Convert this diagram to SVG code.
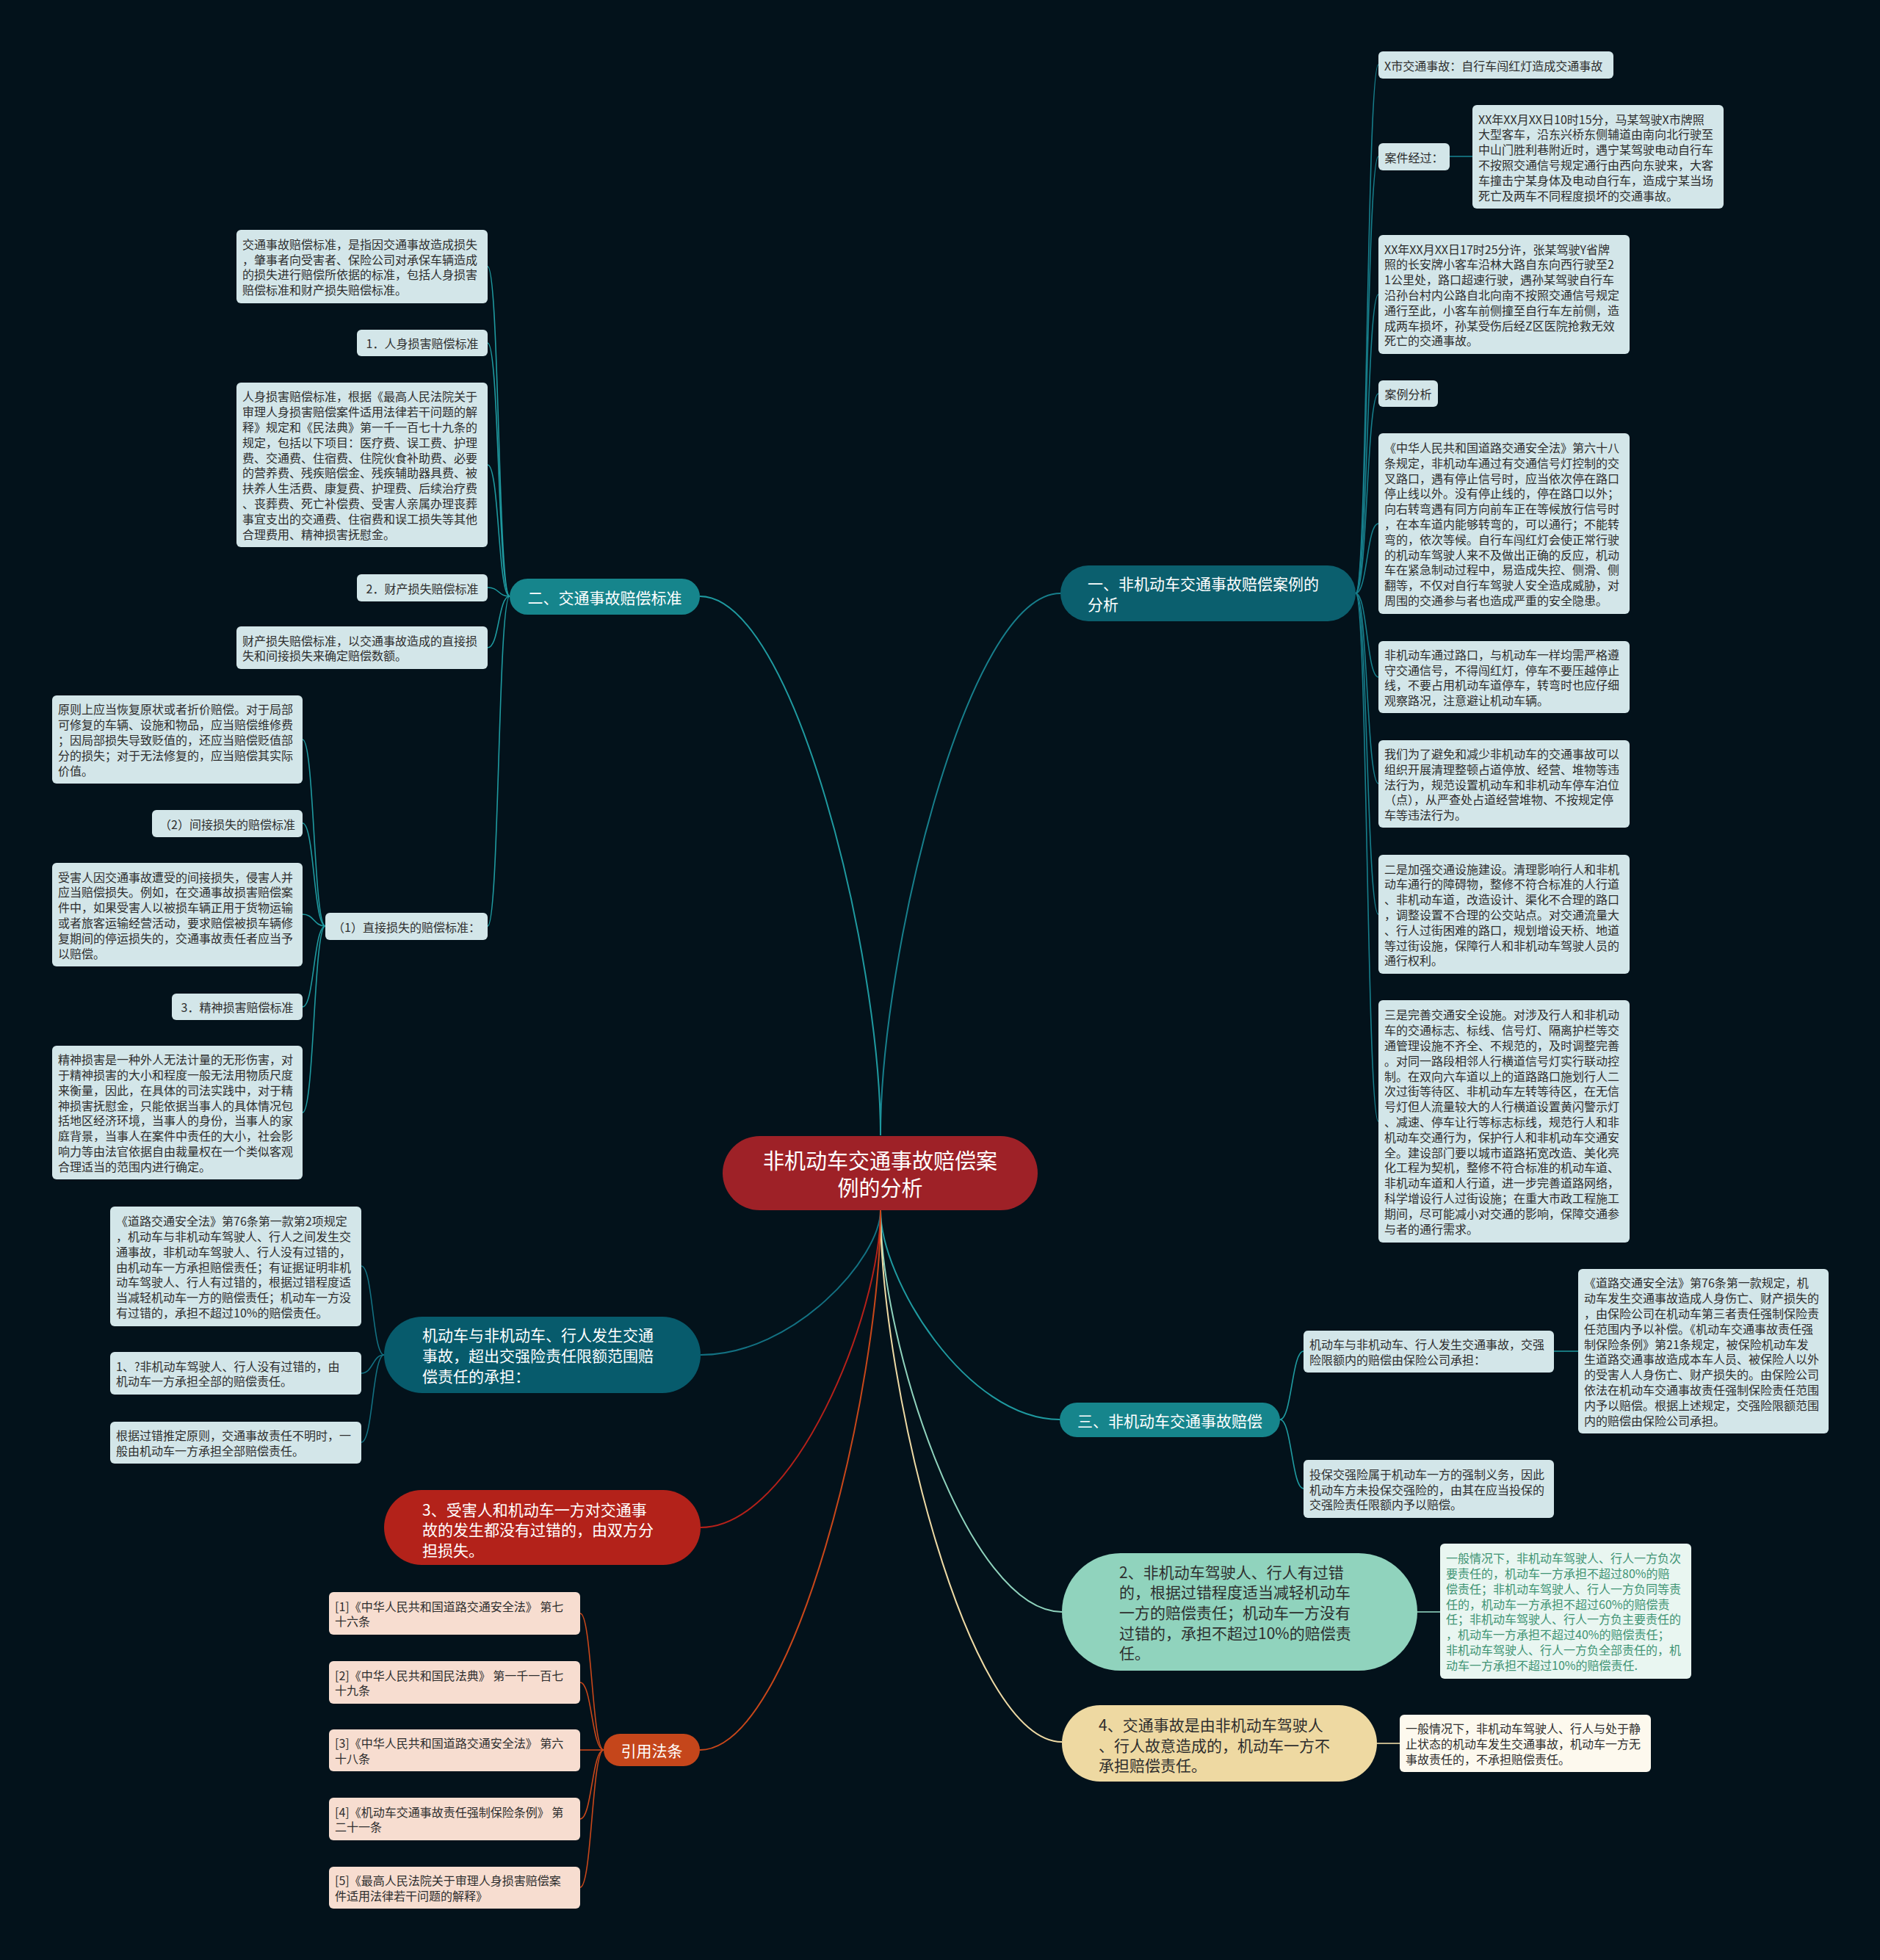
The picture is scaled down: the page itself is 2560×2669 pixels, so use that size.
<svg xmlns="http://www.w3.org/2000/svg" width="2560" height="2669" viewBox="0 0 2560 2669">
<style>
text{font-family:"Noto Sans CJK SC","Noto Sans",sans-serif;dominant-baseline:central}
.bx{fill:#d3e6e9}
.t{font-size:16px;fill:#2e2e2e}
.tc{font-size:16px;fill:#2e2e2e;text-anchor:middle}
.tw{font-size:21px;fill:#ffffff}
.td{font-size:21px;fill:#2e2e2e}
.c{fill:none;stroke-width:2}
.s{fill:none;stroke-width:1.6}
</style>
<rect width="2560" height="2669" fill="#03121b"/>
<g id="connectors">
<!-- center to main branches -->
<path class="c" stroke="#177f8c" d="M1199,1546 C1199,1302 1317,808 1444,808"/>
<path class="c" stroke="#1f9aa0" d="M1199,1546 C1199,1300 1081,812 953,812"/>
<path class="c" stroke="#1f9aa0" d="M1199,1648 C1199,1742 1316,1933 1443,1933"/>
<path class="c" stroke="#8fd3bd" d="M1199,1648 C1199,1829 1318,2195 1446,2195"/>
<path class="c" stroke="#efdba5" d="M1199,1648 C1199,1887 1318,2372 1446,2372"/>
<path class="c" stroke="#137182" d="M1199,1648 C1199,1713 1081,1845 954,1845"/>
<path class="c" stroke="#b5211a" d="M1199,1648 C1199,1791 1081,2080 954,2080"/>
<path class="c" stroke="#c9471a" d="M1199,1648 C1199,1891 1081,2383 953,2383"/>
<!-- branch 一 children -->
<g stroke="#177f8c" class="s">
<path d="M1846,808 C1862,808 1861,88 1877,88"/>
<path d="M1846,808 C1862,808 1861,213 1877,213"/>
<path d="M1846,808 C1862,808 1861,401 1877,401"/>
<path d="M1846,808 C1862,808 1861,536 1877,536"/>
<path d="M1846,808 C1862,808 1861,713 1877,713"/>
<path d="M1846,808 C1862,808 1861,922 1877,922"/>
<path d="M1846,808 C1862,808 1861,1067 1877,1067"/>
<path d="M1846,808 C1862,808 1861,1245 1877,1245"/>
<path d="M1846,808 C1862,808 1861,1527 1877,1527"/>
<path d="M1974,213 L2005,213"/>
</g>
<!-- branch 二 children -->
<g stroke="#1f9aa0" class="s">
<path d="M694,812 C678,812 680,363 664,363"/>
<path d="M694,812 C678,812 680,467 664,467"/>
<path d="M694,812 C678,812 680,633 664,633"/>
<path d="M694,812 C678,812 680,800 664,800"/>
<path d="M694,812 C678,812 680,882 664,882"/>
<path d="M694,812 C678,812 680,1261 664,1261"/>
<path d="M443,1261 C427,1261 428,1007 412,1007"/>
<path d="M443,1261 C427,1261 428,1121 412,1121"/>
<path d="M443,1261 C427,1261 428,1245 412,1245"/>
<path d="M443,1261 C427,1261 428,1371 412,1371"/>
<path d="M443,1261 C427,1261 428,1515 412,1515"/>
</g>
<!-- branch 机动车 children -->
<g stroke="#137182" class="s">
<path d="M523,1845 C507,1845 508,1724 492,1724"/>
<path d="M523,1845 C507,1845 508,1870 492,1870"/>
<path d="M523,1845 C507,1845 508,1964 492,1964"/>
</g>
<!-- 引用法条 children -->
<g stroke="#c9471a" class="s">
<path d="M822,2383 C806,2383 806,2197 790,2197"/>
<path d="M822,2383 C806,2383 806,2291 790,2291"/>
<path d="M822,2383 C806,2383 806,2383 790,2383"/>
<path d="M822,2383 C806,2383 806,2477 790,2477"/>
<path d="M822,2383 C806,2383 806,2570 790,2570"/>
</g>
<!-- 三 children -->
<g stroke="#1f9aa0" class="s">
<path d="M1743,1933 C1759,1933 1759,1840 1775,1840"/>
<path d="M1743,1933 C1759,1933 1759,2027 1775,2027"/>
<path d="M2116,1840 L2149,1840"/>
</g>
<path class="s" stroke="#8fd3bd" d="M1930,2195 L1961,2195"/>
<path class="s" stroke="#efdba5" d="M1875,2374 L1906,2374"/>
</g>

<g id="center">
<rect x="984" y="1547" width="429" height="101" rx="50.5" fill="#9e2127"/>
<text style="font-size:29px;fill:#fff;text-anchor:middle"><tspan x="1198.5" y="1579">非机动车交通事故赔偿案</tspan><tspan x="1198.5" y="1616">例的分析</tspan></text>
</g>

<g id="b1">
<rect x="1444" y="770" width="402" height="76" rx="38" fill="#0b5f6e"/>
<text class="tw"><tspan x="1481" y="794">一、非机动车交通事故赔偿案例的</tspan><tspan x="1481" y="822">分析</tspan></text>
</g>
<g id="b2">
<rect x="694" y="788" width="259" height="49" rx="24.5" fill="#16858c"/>
<text class="tw" style="text-anchor:middle" x="823.5" y="812.5">二、交通事故赔偿标准</text>
</g>
<g id="b3">
<rect x="1443" y="1910" width="300" height="47" rx="23.5" fill="#16858c"/>
<text class="tw" style="text-anchor:middle" x="1593" y="1933.5">三、非机动车交通事故赔偿</text>
</g>
<g id="b4">
<rect x="523" y="1793" width="431" height="104" rx="52" fill="#075b6c"/>
<text class="tw"><tspan x="575" y="1817">机动车与非机动车、行人发生交通</tspan><tspan x="575" y="1845">事故，超出交强险责任限额范围赔</tspan><tspan x="575" y="1873">偿责任的承担：</tspan></text>
</g>
<g id="b5">
<rect x="523" y="2029" width="431" height="102" rx="51" fill="#b3221a"/>
<text class="tw"><tspan x="575" y="2055">3、受害人和机动车一方对交通事</tspan><tspan x="575" y="2082">故的发生都没有过错的，由双方分</tspan><tspan x="575" y="2110">担损失。</tspan></text>
</g>
<g id="b6">
<rect x="822" y="2361" width="131" height="44" rx="22" fill="#c5461b"/>
<text class="tw" style="text-anchor:middle" x="887.5" y="2383">引用法条</text>
</g>
<g id="b7">
<rect x="1446" y="2115" width="484" height="160" rx="80" fill="#90d3bd"/>
<text class="td"><tspan x="1524" y="2140">2、非机动车驾驶人、行人有过错</tspan><tspan x="1524" y="2167">的，根据过错程度适当减轻机动车</tspan><tspan x="1524" y="2195">一方的赔偿责任；机动车一方没有</tspan><tspan x="1524" y="2223">过错的，承担不超过10%的赔偿责</tspan><tspan x="1524" y="2250">任。</tspan></text>
</g>
<g id="b8">
<rect x="1446" y="2322" width="429" height="104" rx="52" fill="#eed9a2"/>
<text class="td"><tspan x="1496" y="2348">4、交通事故是由非机动车驾驶人</tspan><tspan x="1496" y="2376">、行人故意造成的，机动车一方不</tspan><tspan x="1496" y="2403">承担赔偿责任。</tspan></text>
</g>

<!-- right side, branch 一 -->
<g id="r1"><rect class="bx" x="1877" y="70" width="320" height="37" rx="6"/><text class="t" x="1885" y="88.5">X市交通事故：自行车闯红灯造成交通事故</text></g>
<g id="r2"><rect class="bx" x="1877" y="195" width="97" height="37" rx="6"/><text class="tc" x="1925.5" y="213.5">案件经过：</text></g>
<g id="r3"><rect class="bx" x="2005" y="143" width="342" height="141" rx="6"/><text class="t"><tspan x="2013" y="161.5">XX年XX月XX日10时15分，马某驾驶X市牌照</tspan><tspan x="2013" y="182.3">大型客车，沿东兴桥东侧辅道由南向北行驶至</tspan><tspan x="2013" y="203.1">中山门胜利巷附近时，遇宁某驾驶电动自行车</tspan><tspan x="2013" y="223.9">不按照交通信号规定通行由西向东驶来，大客</tspan><tspan x="2013" y="244.7">车撞击宁某身体及电动自行车，造成宁某当场</tspan><tspan x="2013" y="265.5">死亡及两车不同程度损坏的交通事故。</tspan></text></g>
<g id="r4"><rect class="bx" x="1877" y="320" width="342" height="162" rx="6"/><text class="t"><tspan x="1885" y="338.6">XX年XX月XX日17时25分许，张某驾驶Y省牌</tspan><tspan x="1885" y="359.4">照的长安牌小客车沿林大路自东向西行驶至2</tspan><tspan x="1885" y="380.2">1公里处，路口超速行驶，遇孙某驾驶自行车</tspan><tspan x="1885" y="401">沿孙台村内公路自北向南不按照交通信号规定</tspan><tspan x="1885" y="421.8">通行至此，小客车前侧撞至自行车左前侧，造</tspan><tspan x="1885" y="442.6">成两车损坏，孙某受伤后经Z区医院抢救无效</tspan><tspan x="1885" y="463.4">死亡的交通事故。</tspan></text></g>
<g id="r5"><rect class="bx" x="1877" y="518" width="81" height="36" rx="6"/><text class="tc" x="1917.5" y="536">案例分析</text></g>
<g id="r6"><rect class="bx" x="1877" y="590" width="342" height="246" rx="6"/><text class="t"><tspan x="1885" y="609">《中华人民共和国道路交通安全法》第六十八</tspan><tspan x="1885" y="629.8">条规定，非机动车通过有交通信号灯控制的交</tspan><tspan x="1885" y="650.6">叉路口，遇有停止信号时，应当依次停在路口</tspan><tspan x="1885" y="671.4">停止线以外。没有停止线的，停在路口以外；</tspan><tspan x="1885" y="692.2">向右转弯遇有同方向前车正在等候放行信号时</tspan><tspan x="1885" y="713">，在本车道内能够转弯的，可以通行；不能转</tspan><tspan x="1885" y="733.8">弯的，依次等候。自行车闯红灯会使正常行驶</tspan><tspan x="1885" y="754.6">的机动车驾驶人来不及做出正确的反应，机动</tspan><tspan x="1885" y="775.4">车在紧急制动过程中，易造成失控、侧滑、侧</tspan><tspan x="1885" y="796.2">翻等，不仅对自行车驾驶人安全造成威胁，对</tspan><tspan x="1885" y="817">周围的交通参与者也造成严重的安全隐患。</tspan></text></g>
<g id="r7"><rect class="bx" x="1877" y="873" width="342" height="98" rx="6"/><text class="t"><tspan x="1885" y="890.8">非机动车通过路口，与机动车一样均需严格遵</tspan><tspan x="1885" y="911.6">守交通信号，不得闯红灯，停车不要压越停止</tspan><tspan x="1885" y="932.4">线，不要占用机动车道停车，转弯时也应仔细</tspan><tspan x="1885" y="953.2">观察路况，注意避让机动车辆。</tspan></text></g>
<g id="r8"><rect class="bx" x="1877" y="1008" width="342" height="119" rx="6"/><text class="t"><tspan x="1885" y="1025.9">我们为了避免和减少非机动车的交通事故可以</tspan><tspan x="1885" y="1046.7">组织开展清理整顿占道停放、经营、堆物等违</tspan><tspan x="1885" y="1067.5">法行为，规范设置机动车和非机动车停车泊位</tspan><tspan x="1885" y="1088.3">（点），从严查处占道经营堆物、不按规定停</tspan><tspan x="1885" y="1109.1">车等违法行为。</tspan></text></g>
<g id="r9"><rect class="bx" x="1877" y="1164" width="342" height="162" rx="6"/><text class="t"><tspan x="1885" y="1182.6">二是加强交通设施建设。清理影响行人和非机</tspan><tspan x="1885" y="1203.4">动车通行的障碍物，整修不符合标准的人行道</tspan><tspan x="1885" y="1224.2">、非机动车道，改造设计、渠化不合理的路口</tspan><tspan x="1885" y="1245">，调整设置不合理的公交站点。对交通流量大</tspan><tspan x="1885" y="1265.8">、行人过街困难的路口，规划增设天桥、地道</tspan><tspan x="1885" y="1286.6">等过街设施，保障行人和非机动车驾驶人员的</tspan><tspan x="1885" y="1307.4">通行权利。</tspan></text></g>
<g id="r10"><rect class="bx" x="1877" y="1362" width="342" height="330" rx="6"/><text class="t"><tspan x="1885" y="1381.4">三是完善交通安全设施。对涉及行人和非机动</tspan><tspan x="1885" y="1402.2">车的交通标志、标线、信号灯、隔离护栏等交</tspan><tspan x="1885" y="1423">通管理设施不齐全、不规范的，及时调整完善</tspan><tspan x="1885" y="1443.8">。对同一路段相邻人行横道信号灯实行联动控</tspan><tspan x="1885" y="1464.6">制。在双向六车道以上的道路路口施划行人二</tspan><tspan x="1885" y="1485.4">次过街等待区、非机动车左转等待区，在无信</tspan><tspan x="1885" y="1506.2">号灯但人流量较大的人行横道设置黄闪警示灯</tspan><tspan x="1885" y="1527">、减速、停车让行等标志标线，规范行人和非</tspan><tspan x="1885" y="1547.8">机动车交通行为，保护行人和非机动车交通安</tspan><tspan x="1885" y="1568.6">全。建设部门要以城市道路拓宽改造、美化亮</tspan><tspan x="1885" y="1589.4">化工程为契机，整修不符合标准的机动车道、</tspan><tspan x="1885" y="1610.2">非机动车道和人行道，进一步完善道路网络，</tspan><tspan x="1885" y="1631">科学增设行人过街设施；在重大市政工程施工</tspan><tspan x="1885" y="1651.8">期间，尽可能减小对交通的影响，保障交通参</tspan><tspan x="1885" y="1672.6">与者的通行需求。</tspan></text></g>

<!-- left side, branch 二 -->
<g id="l1"><rect class="bx" x="322" y="313" width="342" height="100" rx="6"/><text class="t"><tspan x="330" y="331.8">交通事故赔偿标准，是指因交通事故造成损失</tspan><tspan x="330" y="352.6">，肇事者向受害者、保险公司对承保车辆造成</tspan><tspan x="330" y="373.4">的损失进行赔偿所依据的标准，包括人身损害</tspan><tspan x="330" y="394.2">赔偿标准和财产损失赔偿标准。</tspan></text></g>
<g id="l2"><rect class="bx" x="486" y="449" width="178" height="36" rx="6"/><text class="tc" x="575" y="467">1．人身损害赔偿标准</text></g>
<g id="l3"><rect class="bx" x="322" y="521" width="342" height="224" rx="6"/><text class="t"><tspan x="330" y="539.4">人身损害赔偿标准，根据《最高人民法院关于</tspan><tspan x="330" y="560.2">审理人身损害赔偿案件适用法律若干问题的解</tspan><tspan x="330" y="581">释》规定和《民法典》第一千一百七十九条的</tspan><tspan x="330" y="601.8">规定，包括以下项目：医疗费、误工费、护理</tspan><tspan x="330" y="622.6">费、交通费、住宿费、住院伙食补助费、必要</tspan><tspan x="330" y="643.4">的营养费、残疾赔偿金、残疾辅助器具费、被</tspan><tspan x="330" y="664.2">扶养人生活费、康复费、护理费、后续治疗费</tspan><tspan x="330" y="685">、丧葬费、死亡补偿费、受害人亲属办理丧葬</tspan><tspan x="330" y="705.8">事宜支出的交通费、住宿费和误工损失等其他</tspan><tspan x="330" y="726.6">合理费用、精神损害抚慰金。</tspan></text></g>
<g id="l4"><rect class="bx" x="486" y="782" width="178" height="37" rx="6"/><text class="tc" x="575" y="800.5">2．财产损失赔偿标准</text></g>
<g id="l5"><rect class="bx" x="322" y="853" width="342" height="58" rx="6"/><text class="t"><tspan x="330" y="871.6">财产损失赔偿标准，以交通事故造成的直接损</tspan><tspan x="330" y="892.4">失和间接损失来确定赔偿数额。</tspan></text></g>
<g id="l6"><rect class="bx" x="443" y="1243" width="221" height="37" rx="6"/><text class="tc" x="553.5" y="1261.5">（1）直接损失的赔偿标准：</text></g>
<g id="l7"><rect class="bx" x="71" y="947" width="341" height="120" rx="6"/><text class="t"><tspan x="79" y="965.4">原则上应当恢复原状或者折价赔偿。对于局部</tspan><tspan x="79" y="986.2">可修复的车辆、设施和物品，应当赔偿维修费</tspan><tspan x="79" y="1007">；因局部损失导致贬值的，还应当赔偿贬值部</tspan><tspan x="79" y="1027.8">分的损失；对于无法修复的，应当赔偿其实际</tspan><tspan x="79" y="1048.6">价值。</tspan></text></g>
<g id="l8"><rect class="bx" x="207" y="1103" width="205" height="37" rx="6"/><text class="tc" x="309.5" y="1121.5">（2）间接损失的赔偿标准</text></g>
<g id="l9"><rect class="bx" x="71" y="1175" width="341" height="141" rx="6"/><text class="t"><tspan x="79" y="1193.5">受害人因交通事故遭受的间接损失，侵害人并</tspan><tspan x="79" y="1214.3">应当赔偿损失。例如，在交通事故损害赔偿案</tspan><tspan x="79" y="1235.1">件中，如果受害人以被损车辆正用于货物运输</tspan><tspan x="79" y="1255.9">或者旅客运输经营活动，要求赔偿被损车辆修</tspan><tspan x="79" y="1276.7">复期间的停运损失的，交通事故责任者应当予</tspan><tspan x="79" y="1297.5">以赔偿。</tspan></text></g>
<g id="l10"><rect class="bx" x="234" y="1353" width="178" height="36" rx="6"/><text class="tc" x="323" y="1371">3．精神损害赔偿标准</text></g>
<g id="l11"><rect class="bx" x="71" y="1424" width="341" height="182" rx="6"/><text class="t"><tspan x="79" y="1442.2">精神损害是一种外人无法计量的无形伤害，对</tspan><tspan x="79" y="1463">于精神损害的大小和程度一般无法用物质尺度</tspan><tspan x="79" y="1483.8">来衡量，因此，在具体的司法实践中，对于精</tspan><tspan x="79" y="1504.6">神损害抚慰金，只能依据当事人的具体情况包</tspan><tspan x="79" y="1525.4">括地区经济环境，当事人的身份，当事人的家</tspan><tspan x="79" y="1546.2">庭背景，当事人在案件中责任的大小，社会影</tspan><tspan x="79" y="1567">响力等由法官依据自由裁量权在一个类似客观</tspan><tspan x="79" y="1587.8">合理适当的范围内进行确定。</tspan></text></g>

<!-- branch 机动车 children -->
<g id="m1"><rect class="bx" x="150" y="1643" width="342" height="163" rx="6"/><text class="t"><tspan x="158" y="1662.1">《道路交通安全法》第76条第一款第2项规定</tspan><tspan x="158" y="1682.9">，机动车与非机动车驾驶人、行人之间发生交</tspan><tspan x="158" y="1703.7">通事故，非机动车驾驶人、行人没有过错的，</tspan><tspan x="158" y="1724.5">由机动车一方承担赔偿责任；有证据证明非机</tspan><tspan x="158" y="1745.3">动车驾驶人、行人有过错的，根据过错程度适</tspan><tspan x="158" y="1766.1">当减轻机动车一方的赔偿责任；机动车一方没</tspan><tspan x="158" y="1786.9">有过错的，承担不超过10%的赔偿责任。</tspan></text></g>
<g id="m2"><rect class="bx" x="150" y="1841" width="342" height="58" rx="6"/><text class="t"><tspan x="158" y="1859.6">1、?非机动车驾驶人、行人没有过错的，由</tspan><tspan x="158" y="1880.4">机动车一方承担全部的赔偿责任。</tspan></text></g>
<g id="m3"><rect class="bx" x="150" y="1936" width="342" height="57" rx="6"/><text class="t"><tspan x="158" y="1954.1">根据过错推定原则，交通事故责任不明时，一</tspan><tspan x="158" y="1974.9">般由机动车一方承担全部赔偿责任。</tspan></text></g>

<!-- 引用法条 children -->
<g id="f1"><rect x="448" y="2168" width="342" height="58" rx="6" fill="#f7ddd0"/><text class="t"><tspan x="456" y="2186.6">[1]《中华人民共和国道路交通安全法》 第七</tspan><tspan x="456" y="2207.4">十六条</tspan></text></g>
<g id="f2"><rect x="448" y="2262" width="342" height="58" rx="6" fill="#f7ddd0"/><text class="t"><tspan x="456" y="2280.6">[2]《中华人民共和国民法典》 第一千一百七</tspan><tspan x="456" y="2301.4">十九条</tspan></text></g>
<g id="f3"><rect x="448" y="2355" width="342" height="57" rx="6" fill="#f7ddd0"/><text class="t"><tspan x="456" y="2373.1">[3]《中华人民共和国道路交通安全法》 第六</tspan><tspan x="456" y="2393.9">十八条</tspan></text></g>
<g id="f4"><rect x="448" y="2448" width="342" height="58" rx="6" fill="#f7ddd0"/><text class="t"><tspan x="456" y="2466.6">[4]《机动车交通事故责任强制保险条例》 第</tspan><tspan x="456" y="2487.4">二十一条</tspan></text></g>
<g id="f5"><rect x="448" y="2542" width="342" height="57" rx="6" fill="#f7ddd0"/><text class="t"><tspan x="456" y="2560.1">[5]《最高人民法院关于审理人身损害赔偿案</tspan><tspan x="456" y="2580.9">件适用法律若干问题的解释》</tspan></text></g>

<!-- 三 children -->
<g id="t1"><rect class="bx" x="1775" y="1812" width="341" height="57" rx="6"/><text class="t"><tspan x="1783" y="1830.1">机动车与非机动车、行人发生交通事故，交强</tspan><tspan x="1783" y="1850.9">险限额内的赔偿由保险公司承担：</tspan></text></g>
<g id="t2"><rect class="bx" x="2149" y="1728" width="341" height="224" rx="6"/><text class="t"><tspan x="2157" y="1746.4">《道路交通安全法》第76条第一款规定，机</tspan><tspan x="2157" y="1767.2">动车发生交通事故造成人身伤亡、财产损失的</tspan><tspan x="2157" y="1788">，由保险公司在机动车第三者责任强制保险责</tspan><tspan x="2157" y="1808.8">任范围内予以补偿。《机动车交通事故责任强</tspan><tspan x="2157" y="1829.6">制保险条例》第21条规定，被保险机动车发</tspan><tspan x="2157" y="1850.4">生道路交通事故造成本车人员、被保险人以外</tspan><tspan x="2157" y="1871.2">的受害人人身伤亡、财产损失的。由保险公司</tspan><tspan x="2157" y="1892">依法在机动车交通事故责任强制保险责任范围</tspan><tspan x="2157" y="1912.8">内予以赔偿。根据上述规定，交强险限额范围</tspan><tspan x="2157" y="1933.6">内的赔偿由保险公司承担。</tspan></text></g>
<g id="t3"><rect class="bx" x="1775" y="1988" width="341" height="79" rx="6"/><text class="t"><tspan x="1783" y="2006.7">投保交强险属于机动车一方的强制义务，因此</tspan><tspan x="1783" y="2027.5">机动车方未投保交强险的，由其在应当投保的</tspan><tspan x="1783" y="2048.3">交强险责任限额内予以赔偿。</tspan></text></g>

<g id="g1"><rect x="1961" y="2102" width="342" height="184" rx="6" fill="#e9f6f1"/><text class="t" style="fill:#3f9474"><tspan x="1969" y="2121.2">一般情况下，非机动车驾驶人、行人一方负次</tspan><tspan x="1969" y="2142">要责任的，机动车一方承担不超过80%的赔</tspan><tspan x="1969" y="2162.8">偿责任；非机动车驾驶人、行人一方负同等责</tspan><tspan x="1969" y="2183.6">任的，机动车一方承担不超过60%的赔偿责</tspan><tspan x="1969" y="2204.4">任；非机动车驾驶人、行人一方负主要责任的</tspan><tspan x="1969" y="2225.2">，机动车一方承担不超过40%的赔偿责任；</tspan><tspan x="1969" y="2246">非机动车驾驶人、行人一方负全部责任的，机</tspan><tspan x="1969" y="2266.8">动车一方承担不超过10%的赔偿责任.</tspan></text></g>
<g id="y1"><rect x="1906" y="2335" width="342" height="78" rx="6" fill="#fdf9ee"/><text class="t"><tspan x="1914" y="2353.2">一般情况下，非机动车驾驶人、行人与处于静</tspan><tspan x="1914" y="2374">止状态的机动车发生交通事故，机动车一方无</tspan><tspan x="1914" y="2394.8">事故责任的，不承担赔偿责任。</tspan></text></g>
</svg>
